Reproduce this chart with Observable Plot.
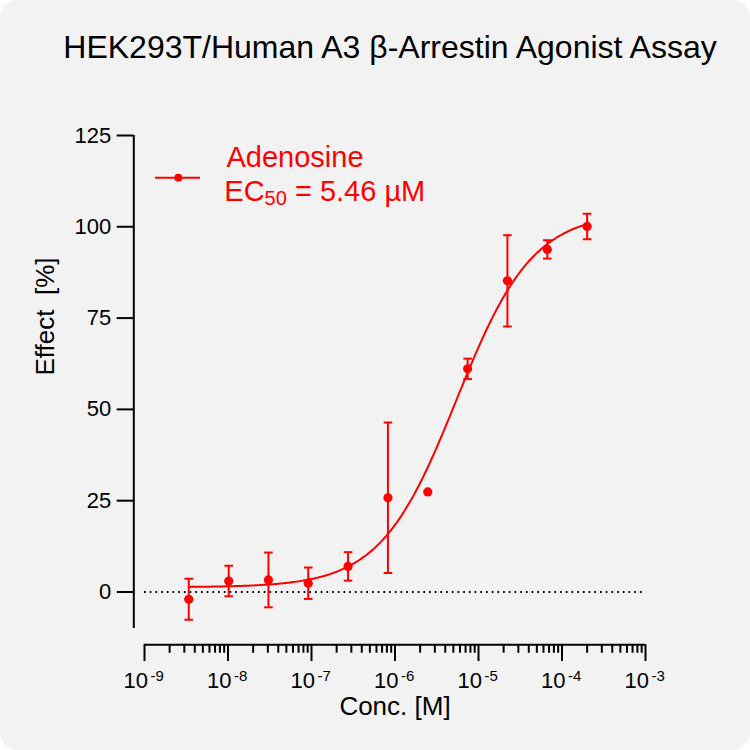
<!DOCTYPE html>
<html>
<head>
<meta charset="utf-8">
<script src="https://cdn.jsdelivr.net/npm/d3@7"></script>
<script src="https://cdn.jsdelivr.net/npm/@observablehq/plot@0.6"></script>
<style>
  html, body { margin: 0; padding: 0; background: #ffffff; }
  #card { position: relative; width: 750px; height: 750px; background: #f2f2f2; border-radius: 18px; overflow: hidden;
          font-family: "Liberation Sans", Arial, sans-serif; }
  #title { position: absolute; left: 15px; top: 31px; width: 750px; text-align: center; font-size: 32px; line-height: 32px;
           color: #000; white-space: nowrap; }
  #chart { position: absolute; left: 0; top: 80px; width: 750px; height: 670px; }
  #legend { position: absolute; left: 0; top: 0; pointer-events: none; }
</style>
</head>
<body>
<div id="card">
  <div id="title">HEK293T/Human A3 β-Arrestin Agonist Assay</div>
  <div id="chart"></div>
  <svg id="legend" width="750" height="750" font-family="'Liberation Sans', Arial, sans-serif">
    <line x1="155" x2="200" y1="177.7" y2="177.7" stroke="#ff0000" stroke-width="2"></line>
    <circle cx="178.3" cy="177.7" r="3.9" fill="#ff0000"></circle>
    <text id="legName" x="226.5" y="166.7" font-size="29" fill="#ff0000"></text>
    <text id="legEc" x="224.3" y="201" font-size="29" fill="#ff0000"></text>
  </svg>
</div>
<script>
// ---- data ----
const seriesName = "Adenosine";
const ec50Label = "5.46 µM";
const conc   = [3.39e-9, 1.02e-8, 3.05e-8, 9.14e-8, 2.74e-7, 8.23e-7, 2.47e-6, 7.41e-6, 2.22e-5, 6.67e-5, 2.0e-4];
const effect = [-2.0, 3.0, 3.3, 2.4, 7.0, 25.8, 27.4, 61.1, 85.2, 93.8, 100.1];
const sdev   = [5.6, 4.2, 7.5, 4.3, 3.9, 20.6, 0, 2.8, 12.5, 2.5, 3.5];

// four-parameter logistic fit shown in the chart
const fitBottom = 1.3;
const fitTop = 104;
const fitEC50 = 5.46e-6;
const fitHill = 0.95;

// axes
const yTicks = [0, 25, 50, 75, 100, 125];
const xDecades = [1e-9, 1e-8, 1e-7, 1e-6, 1e-5, 1e-4, 1e-3];
const xExponents = ["-9", "-8", "-7", "-6", "-5", "-4", "-3"];
const minorMultipliers = [2, 3, 4, 5, 6, 7, 8, 9];
const xDomain = [1e-9, 1e-3];
const yDomain = [-10, 125];
const xTitle = "Conc. [M]";
const yTitle = "Effect \u00a0[%]";

// ---- build ----
const red = "#ff0000";
const points = conc.map((c, i) => ({conc: c, effect: effect[i], sd: sdev[i]}));
const withErr = points.filter(d => d.sd > 0);
const minorTicks = xDecades.slice(0, -1).flatMap(d => minorMultipliers.map(m => m * d));
const lo = Math.log10(conc[0]), hi = Math.log10(conc[conc.length - 1]);
const curve = d3.range(0, 241).map(i => {
  const c = Math.pow(10, lo + (hi - lo) * i / 240);
  return {conc: c, effect: fitBottom + (fitTop - fitBottom) / (1 + Math.pow(fitEC50 / c, fitHill))};
});
const capSymbol = {draw(ctx) { ctx.moveTo(-4.3, 0); ctx.lineTo(4.3, 0); }};

document.getElementById("legName").textContent = seriesName;
const ec = d3.select("#legEc");
ec.append("tspan").text("EC");
ec.append("tspan").attr("font-size", 20).attr("dy", 4).text("50");
ec.append("tspan").attr("dy", -4).text(" = " + ec50Label);

const plot = Plot.plot({
  width: 750,
  height: 670,
  marginLeft: 144,
  marginRight: 105,
  marginTop: 55,
  marginBottom: 122,
  style: {background: "transparent", fontFamily: '"Liberation Sans", Arial, sans-serif', color: "#000", overflow: "visible"},
  x: {type: "log", domain: xDomain},
  y: {domain: yDomain},
  marks: [
    Plot.ruleY([0], {x1: xDomain[0], x2: xDomain[1], stroke: "#000", strokeWidth: 1.8, strokeDasharray: "1.7,4"}),
    Plot.ruleX([xDomain[0]], {y1: yDomain[0], y2: yDomain[1], dx: -10.7, stroke: "#000", strokeWidth: 2}),
    Plot.axisY({ticks: yTicks, tickSize: 16.6, tickPadding: 6, dx: -10.7, fontSize: 22, label: null, strokeWidth: 2, stroke: "#000", tickFormat: d => String(d)}),
    Plot.ruleY([yDomain[0]], {x1: xDomain[0], x2: xDomain[1], dy: 16.3, stroke: "#000", strokeWidth: 2}),
    Plot.axisX({ticks: xDecades, tickSize: 16.7, dy: 16.3, strokeWidth: 2, stroke: "#000", tickFormat: () => "", label: null}),
    Plot.axisX({ticks: minorTicks, tickSize: 8.4, dy: 16.3, strokeWidth: 2, stroke: "#000", tickFormat: () => "", label: null}),
    Plot.text(xDecades, {x: d => d, frameAnchor: "bottom", text: () => "10", textAnchor: "end", lineAnchor: "bottom", dx: 3.5, dy: 59.3, fontSize: 22, fill: "#000"}),
    Plot.text(xDecades, {x: d => d, frameAnchor: "bottom", text: (d, i) => xExponents[i], textAnchor: "start", lineAnchor: "bottom", dx: 6, dy: 52, fontSize: 15, fill: "#000"}),
    Plot.text([xTitle], {frameAnchor: "bottom", lineAnchor: "bottom", dy: 86, fontSize: 26, fill: "#000"}),
    Plot.text([yTitle], {frameAnchor: "left", rotate: -90, lineAnchor: "bottom", dx: -90.7, dy: -6.5, fontSize: 26, fill: "#000"}),
    Plot.line(curve, {x: "conc", y: "effect", stroke: red, strokeWidth: 2}),
    Plot.ruleX(withErr, {x: "conc", y1: d => d.effect - d.sd, y2: d => d.effect + d.sd, stroke: red, strokeWidth: 2}),
    Plot.dot(withErr, {x: "conc", y: d => d.effect + d.sd, symbol: capSymbol, stroke: red, fill: "none", strokeWidth: 2}),
    Plot.dot(withErr, {x: "conc", y: d => d.effect - d.sd, symbol: capSymbol, stroke: red, fill: "none", strokeWidth: 2}),
    Plot.dot(points, {x: "conc", y: "effect", r: 4.6, fill: red, stroke: "none"})
  ]
});
document.getElementById("chart").appendChild(plot);
</script>
</body>
</html>
